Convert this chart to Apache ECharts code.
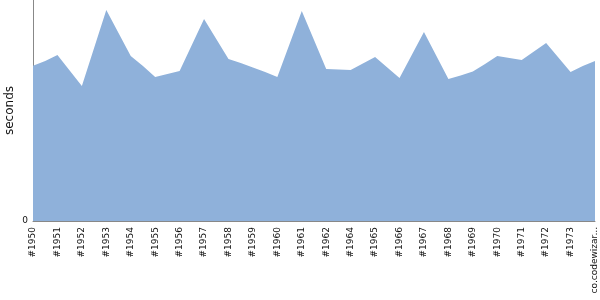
<!DOCTYPE html>
<html>
<head>
<meta charset="utf-8">
<script src="https://cdn.jsdelivr.net/npm/echarts@6/dist/echarts.min.js"></script>
<style>html,body{margin:0;padding:0;background:#fff}#c{width:600px;height:300px}</style>
</head>
<body>
<div id="c"></div>
<script>
var categories = [
  "#1950","#1950b","#1951","#1951b","#1952","#1952b","#1953","#1953b",
  "#1954","#1954b","#1955","#1955b","#1956","#1956b","#1957","#1957b",
  "#1958","#1958b","#1959","#1959b","#1960","#1960b","#1961","#1961b",
  "#1962","#1963","#1964","#1964b","#1965","#1965b","#1966","#1966b",
  "#1967","#1967b","#1968","#1968b","#1969","#1969b","#1970","#1970b",
  "#1971","#1971b","#1972","#1972b","#1973","#1973b","co.codewizards.example"
];
var seconds = [
  70.3, 72.4, 75.1, 68.1, 61.1, 78.3, 95.5, 85.1,
  74.7, 70.1, 65.2, 66.5, 67.9, 79.6, 91.4, 82.4,
  73.3, 71.5, 69.5, 67.4, 65.2, 80.1, 95.0, 81.9,
  68.8, 68.6, 68.3, 71.3, 74.2, 69.5, 64.7, 75.1,
  85.5, 74.9, 64.3, 65.8, 67.6, 71.0, 74.7, 73.8,
  72.9, 76.7, 80.5, 74.0, 67.4, 70.1, 72.4
];
var yMax = 100;

var chart = echarts.init(document.getElementById('c'), null, {renderer: 'canvas'});
chart.setOption({
  animation: false,
  grid: {left: 33, right: 5, top: 0, bottom: 79, containLabel: false, outerBoundsMode: 'none'},
  xAxis: {
    type: 'category',
    data: categories,
    boundaryGap: false,
    axisLine: {lineStyle: {color: '#888', width: 1}},
    axisTick: {show: false},
    axisLabel: {
      interval: 1,
      rotate: 90,
      margin: 6,
      color: '#111',
      fontFamily: 'DejaVu Sans',
      fontSize: 9,
      width: 70,
      overflow: 'truncate'
    },
    splitLine: {show: false}
  },
  yAxis: {
    type: 'value',
    min: 0,
    max: yMax,
    interval: yMax,
    name: 'seconds',
    nameLocation: 'middle',
    nameGap: 17,
    nameMoveOverlap: false,
    nameTextStyle: {color: '#111', fontFamily: 'DejaVu Sans', fontSize: 12},
    axisLine: {show: true, lineStyle: {color: '#888', width: 1}},
    axisTick: {show: false},
    axisLabel: {
      color: '#111',
      fontFamily: 'DejaVu Sans',
      fontSize: 9,
      margin: 5,
      formatter: function (v) { return v === 0 ? '0' : ''; }
    },
    splitLine: {show: false}
  },
  series: [{
    type: 'line',
    data: seconds,
    symbol: 'none',
    lineStyle: {width: 0, color: '#8fb1da'},
    areaStyle: {color: '#8fb1da', opacity: 1}
  }]
});
</script>
</body>
</html>
